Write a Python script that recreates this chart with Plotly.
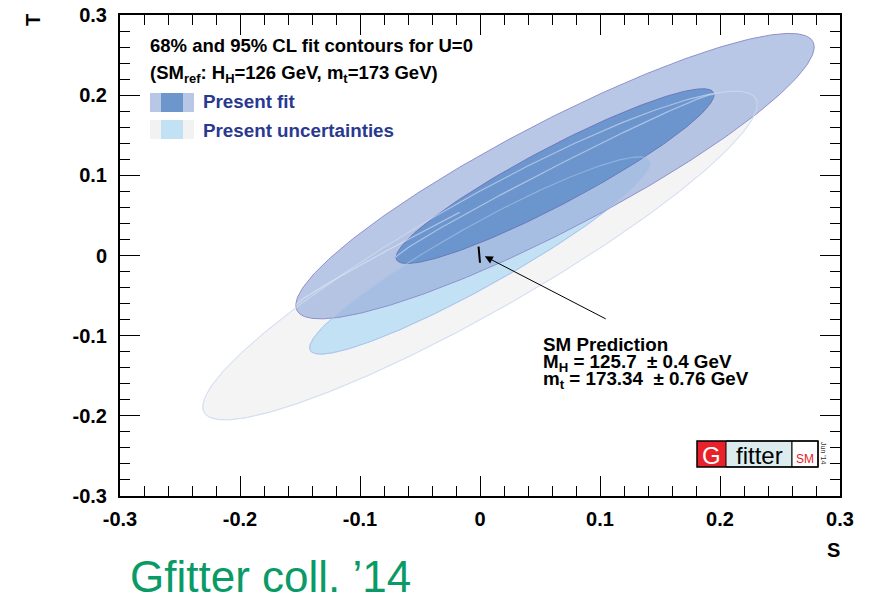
import numpy as np
import plotly.graph_objects as go

# ---------------- data ----------------
# CL contours: (uncertainty contours are centred on the SM reference point)
contour_names = ["Present uncertainties 95% CL", "Present uncertainties 68% CL",
                 "Present fit 95% CL", "Present fit 68% CL"]
center_S = [0.0, 0.0, 0.0625, 0.0625]
center_T = [0.0, 0.0, 0.099, 0.099]
half_S = [0.231, 0.142, 0.216, 0.1325]     # half extent of contour along S
half_T = [0.205, 0.123, 0.178, 0.109]      # half extent of contour along T
rho = [0.92, 0.935, 0.905, 0.93]           # S-T correlation of contour

# SM prediction (small segment for the mH / mt variation)
sm_pred_S = [-0.0012, 0.0]
sm_pred_T = [0.011, -0.009]

# arrow: head and tail of the pointer to the SM prediction
arrow_head = (0.004, -0.001)
arrow_tail = (0.106, -0.080)

tick_vals = [-0.3, -0.2, -0.1, 0.0, 0.1, 0.2, 0.3]
tick_text = ["-0.3", "-0.2", "-0.1", "0", "0.1", "0.2", "0.3"]

# ---------------- styles ----------------
fill_colors = ["#f4f4f4", "#c3e1f4", "rgba(155,175,220,0.70)", "rgba(100,144,202,0.90)"]
line_colors = ["#c4d0ee", "#9cb8e6", "#8e90cc", "#6a78bc"]
FONT = "Liberation Sans, Arial, Helvetica, sans-serif"
BLUE_TXT = "#2a3990"

# plot area in pixels
L, R, T_, B = 120, 840, 15, 496
W, H = 871, 597


def PX(px):
    return (px - L) / (R - L)


def PY(py):
    return (B - py) / (B - T_)


def contour(i, k=1.0, theta=None):
    if theta is None:
        theta = np.linspace(0, 2 * np.pi, 361)
    s = center_S[i] + half_S[i] * np.cos(theta)
    t = center_T[i] + half_T[i] * (rho[i] * np.cos(theta)
                                   + k * np.sqrt(1 - rho[i] ** 2) * np.sin(theta))
    return s, t


fig = go.Figure()

for i in range(4):
    s, t = contour(i)
    fig.add_trace(go.Scatter(x=s, y=t, mode="lines", fill="toself",
                             fillcolor=fill_colors[i],
                             line=dict(color=line_colors[i], width=1),
                             name=contour_names[i], hoverinfo="skip",
                             showlegend=False))

# uncertainty outlines seen through the translucent fit contours
s, t = contour(0)
fig.add_trace(go.Scatter(x=s, y=t, mode="lines", line=dict(color="rgba(228,234,250,0.55)", width=1.2),
                         hoverinfo="skip", showlegend=False))
s, t = contour(1)
fig.add_trace(go.Scatter(x=s, y=t, mode="lines", line=dict(color="rgba(190,212,242,0.45)", width=1.2),
                         hoverinfo="skip", showlegend=False))

# faint polygon seams inside the fit contours
s, t = contour(3, k=0.3, theta=np.linspace(0, np.pi, 181))
fig.add_trace(go.Scatter(x=s, y=t, mode="lines", line=dict(color="rgba(205,220,245,0.65)", width=1.2),
                         hoverinfo="skip", showlegend=False))
s, t = contour(2, k=0.2, theta=np.linspace(0.62 * np.pi, np.pi, 80))
fig.add_trace(go.Scatter(x=s, y=t, mode="lines", line=dict(color="rgba(235,240,252,0.5)", width=1.2),
                         hoverinfo="skip", showlegend=False))

# SM prediction
fig.add_trace(go.Scatter(x=sm_pred_S, y=sm_pred_T, mode="lines",
                         line=dict(color="black", width=2), hoverinfo="skip", showlegend=False))

axis_common = dict(
    range=[-0.3, 0.3], tickmode="array", tickvals=tick_vals, ticktext=tick_text,
    ticks="inside", ticklen=20, tickwidth=1.3, tickcolor="black",
    showline=True, linewidth=2, linecolor="black", mirror="ticks",
    showgrid=False, zeroline=False, automargin=False,
    tickfont=dict(family=FONT, size=20, color="black", weight="bold"),
    minor=dict(tickmode="linear", tick0=-0.3, dtick=0.02, ticks="inside", ticklen=10,
               tickwidth=1.1, tickcolor="black", showgrid=False),
)

fig.update_layout(
    width=W, height=H,
    margin=dict(l=L, r=W - R, t=T_, b=H - B, autoexpand=False),
    paper_bgcolor="white", plot_bgcolor="white",
    xaxis=dict(**axis_common, ticklabelstandoff=4),
    yaxis=dict(**axis_common, ticklabelstandoff=7),
    showlegend=False,
)

ann = []


def text(px, py, s, size=18.5, color="black", bold=True, xanchor="left", angle=0, yanchor="middle"):
    ann.append(dict(x=PX(px), y=PY(py), xref="paper", yref="paper", text=s, showarrow=False,
                    xanchor=xanchor, yanchor=yanchor, textangle=angle,
                    font=dict(family=FONT, size=size, color=color,
                              weight="bold" if bold else "normal")))


# header text and legend
text(148, 46, "68% and 95% CL fit contours for U=0")
text(148, 74, "(SM<sub>ref</sub>: H<sub>H</sub>=126 GeV, m<sub>t</sub>=173 GeV)")
text(201, 102, "Present fit", color=BLUE_TXT, size=18.8)
text(201, 130, "Present uncertainties", color=BLUE_TXT, size=18.8)

# SM prediction annotation
text(541, 345, "SM Prediction", size=18.8)
text(541, 363, "M<sub>H</sub> = 125.7 \u00a0\u00b1 0.4 GeV", size=18.8)
text(541, 380, "m<sub>t</sub> = 173.34 \u00a0\u00b1 0.76 GeV", size=18.8)

# axis titles
text(833, 550, "S", size=20, xanchor="center")
text(33, 20, "T", size=20, xanchor="center", angle=-90)

# collaboration label
text(128, 576, "Gfitter coll. \u201914", size=44, color="#0a9a66", bold=False)

# Gfitter logo
text(711.5, 455, "G", size=24, color="white", bold=False, xanchor="center")
text(759, 455, "fitter", size=24, color="black", bold=False, xanchor="center")
text(805, 459, "SM", size=12, color="#e8222a", bold=False, xanchor="center")
text(823, 453, "Jun '14", size=7, color="#333333", bold=False, xanchor="center", angle=90)

# arrow to SM prediction
ann.append(dict(x=arrow_head[0], y=arrow_head[1], xref="x", yref="y",
                ax=arrow_tail[0], ay=arrow_tail[1], axref="x", ayref="y",
                text="", showarrow=True, arrowhead=2, arrowsize=1.6, arrowwidth=1,
                arrowcolor="black", standoff=0, startstandoff=0))

fig.update_layout(annotations=ann)

shapes = []
# legend swatches
shapes.append(dict(type="rect", xref="paper", yref="paper", x0=PX(150), x1=PX(194), y0=PY(112), y1=PY(93),
                   fillcolor="#b9c7e6", line=dict(width=0)))
shapes.append(dict(type="rect", xref="paper", yref="paper", x0=PX(161), x1=PX(183), y0=PY(112), y1=PY(93),
                   fillcolor="#6c96cc", line=dict(width=0)))
shapes.append(dict(type="rect", xref="paper", yref="paper", x0=PX(150), x1=PX(194), y0=PY(139), y1=PY(120),
                   fillcolor="#f2f2f2", line=dict(width=0)))
shapes.append(dict(type="rect", xref="paper", yref="paper", x0=PX(161), x1=PX(183), y0=PY(139), y1=PY(120),
                   fillcolor="#c3e1f4", line=dict(width=0)))
# logo boxes
shapes.append(dict(type="rect", xref="paper", yref="paper", x0=PX(697), x1=PX(726), y0=PY(467), y1=PY(441),
                   fillcolor="#e8222a", line=dict(width=0)))
shapes.append(dict(type="rect", xref="paper", yref="paper", x0=PX(726), x1=PX(792), y0=PY(467), y1=PY(441),
                   fillcolor="#dcecee", line=dict(color="black", width=1)))
shapes.append(dict(type="rect", xref="paper", yref="paper", x0=PX(792), x1=PX(818), y0=PY(467), y1=PY(441),
                   fillcolor="white", line=dict(color="black", width=1)))
shapes.append(dict(type="rect", xref="paper", yref="paper", x0=PX(697), x1=PX(818), y0=PY(467), y1=PY(441),
                   fillcolor="rgba(0,0,0,0)", line=dict(color="black", width=1.5)))
fig.update_layout(shapes=shapes)

fig.write_html("out.html", config={"displayModeBar": False},
               post_script="document.body.style.margin='0px';document.body.style.overflow='hidden';")
